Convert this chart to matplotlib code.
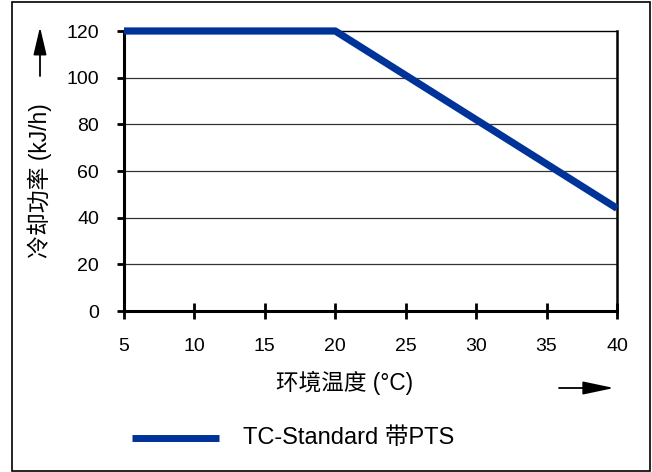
import matplotlib
matplotlib.use("Agg")
import matplotlib.pyplot as plt
from matplotlib.patches import Rectangle, FancyArrowPatch
from matplotlib.lines import Line2D

plt.rcParams['font.family'] = ['Liberation Sans', 'Noto Sans CJK SC', 'DejaVu Sans']

temps = [5, 20, 40]
power = [120, 120, 44]
xticks = [5, 10, 15, 20, 25, 30, 35, 40]
yticks = [0, 20, 40, 60, 80, 100, 120]
xlabel = "环境温度 (°C)"
ylabel = "冷却功率 (kJ/h)"
legend_label = "TC-Standard 带PTS"
line_color = "#003399"

fig = plt.figure(figsize=(6.52, 4.72), dpi=100)
W, H = 652, 472
ax = fig.add_axes([124 / W, 1 - 311 / H, (617 - 124) / W, (311 - 31) / H])

ax.plot(temps, power, color=line_color, lw=5.2, solid_capstyle='butt', zorder=3, clip_on=False)
ax.set_xlim(5, 40)
ax.set_ylim(0, 120)
ax.set_xticks(xticks)
ax.set_yticks(yticks)
ax.set_xticklabels([str(v) for v in xticks], fontsize=14)
ax.set_yticklabels([str(v) for v in yticks], fontsize=14)

for v in yticks[1:-1]:
    ax.axhline(v, color="#333333", lw=0.9, zorder=1)

ax.spines['left'].set_linewidth(2.2)
ax.spines['bottom'].set_linewidth(2.2)
ax.spines['right'].set_linewidth(1.8)
ax.spines['top'].set_linewidth(1.0)
ax.tick_params(axis='y', direction='out', length=5, width=2, pad=13)
ax.tick_params(axis='x', direction='inout', length=11, width=2, pad=14)

fig.text(40 / W, 1 - 181 / H, ylabel, rotation=90, ha='center', va='center', fontsize=16.5)
fig.text(345 / W, 1 - 383 / H, xlabel, ha='center', va='center', fontsize=16.3)

# direction arrows
fig.add_artist(FancyArrowPatch((40 / W, 1 - 76 / H), (40 / W, 1 - 27 / H),
               transform=fig.transFigure, arrowstyle='-|>,head_length=17,head_width=4',
               color='black', lw=1.3, mutation_scale=1, shrinkA=0, shrinkB=0))
fig.add_artist(FancyArrowPatch((559 / W, 1 - 388 / H), (614 / W, 1 - 388 / H),
               transform=fig.transFigure, arrowstyle='-|>,head_length=19,head_width=4',
               color='black', lw=1.3, mutation_scale=1, shrinkA=0, shrinkB=0))

# legend
fig.add_artist(Line2D([132 / W, 219 / W], [1 - 438 / H, 1 - 438 / H],
               transform=fig.transFigure, color=line_color, lw=5, solid_capstyle='butt'))
fig.text(243 / W, 1 - 438 / H, legend_label, ha='left', va='center', fontsize=17)

# outer frame
fig.add_artist(Rectangle((11.5 / W, 1.5 / H), (650 - 11.5) / W, (470 - 1.5) / H,
               transform=fig.transFigure, fill=False, edgecolor='black', lw=1.2))

fig.savefig("out.png", dpi=100)
